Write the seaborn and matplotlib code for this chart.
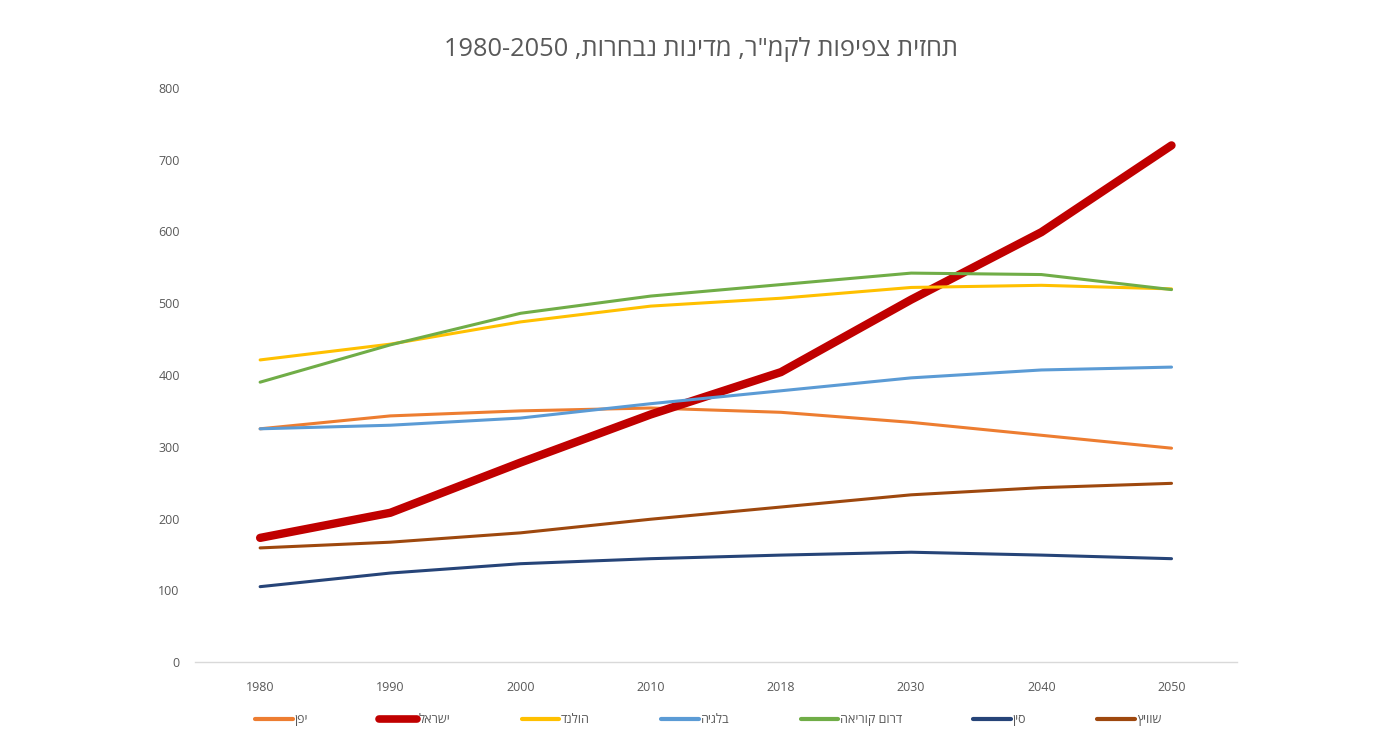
import re
import matplotlib
matplotlib.use("Agg")
import matplotlib.pyplot as plt
from matplotlib.lines import Line2D
import pandas as pd
import seaborn as sns

# data (density per km2)
years = ["1980", "1990", "2000", "2010", "2018", "2030", "2040", "2050"]
countries = ["יפן", "ישראל", "הולנד", "בלגיה", "דרום קוריאה", "סין", "שוויץ"]
japan = [325, 343, 350, 354, 348, 334, 316, 298]
israel = [173, 208, 278, 345, 404, 505, 599, 720]
netherlands = [421, 443, 474, 496, 507, 522, 525, 520]
belgium = [325, 330, 340, 360, 378, 396, 407, 411]
south_korea = [390, 442, 486, 510, 526, 542, 540, 519]
china = [105, 124, 137, 144, 149, 153, 149, 144]
switzerland = [159, 167, 180, 199, 216, 233, 243, 249]
title = 'תחזית צפיפות לקמ"ר, מדינות נבחרות, 1980-2050'

series = [japan, israel, netherlands, belgium, south_korea, china, switzerland]
colors = ["#ED7D31", "#C00000", "#FFC000", "#5B9BD5", "#70AD47", "#264478", "#9E480E"]
widths = [2.2, 6.0, 2.2, 2.2, 2.2, 2.2, 2.2]


def rtl(s):
    # matplotlib has no bidi support: reverse the hebrew, keep number runs in order
    return re.sub(r"[0-9][0-9\-]*[0-9]", lambda m: m.group(0)[::-1], s[::-1])


rows = []
for name, vals in zip(countries, series):
    for i, (yr, v) in enumerate(zip(years, vals)):
        rows.append({"idx": i, "year": yr, "country": name, "value": v})
df = pd.DataFrame(rows)

sns.set_style("white")
plt.rcParams["font.family"] = ["Open Sans", "DejaVu Sans"]

fig = plt.figure(figsize=(13.97, 7.45), dpi=100)
ax = fig.add_axes([0.1396, 0.1114, 0.7456, 0.7705])

sns.lineplot(data=df, x="idx", y="value", hue="country", size="country",
             hue_order=countries, size_order=countries,
             palette=dict(zip(countries, colors)),
             sizes=dict(zip(countries, widths)),
             legend=False, sort=False, ax=ax)
for line in ax.get_lines():
    line.set_solid_capstyle("round")
    line.set_solid_joinstyle("round")

ax.set_xlim(-0.5, len(years) - 0.5)
ax.set_ylim(0, 800)
ax.set_xticks(range(len(years)))
ax.set_xticklabels(years)
ax.set_yticks(range(0, 801, 100))
ax.set_xlabel("")
ax.set_ylabel("")
ax.tick_params(axis="both", length=0, labelsize=9, labelcolor="#595959")
ax.tick_params(axis="x", pad=14)
ax.tick_params(axis="y", pad=11)
ax.grid(False)
for side in ["top", "right", "left"]:
    ax.spines[side].set_visible(False)
ax.spines["bottom"].set_color("#D9D9D9")
ax.spines["bottom"].set_linewidth(1)

fig.text(0.5015, 0.934, rtl(title), ha="center", va="center",
         fontsize=18.3, color="#595959")

handles = [Line2D([0], [0], color=c, lw=3 if w < 3 else 5.5, solid_capstyle="round")
           for c, w in zip(colors, widths)]
leg = fig.legend(handles, [rtl(c) for c in countries], loc="center",
                 bbox_to_anchor=(0.507, 0.034), ncol=len(countries), frameon=False,
                 fontsize=9, handlelength=3.0, handletextpad=0.15, columnspacing=5.7)
for t in leg.get_texts():
    t.set_color("#595959")

fig.savefig("out.png", dpi=100, facecolor="white")
